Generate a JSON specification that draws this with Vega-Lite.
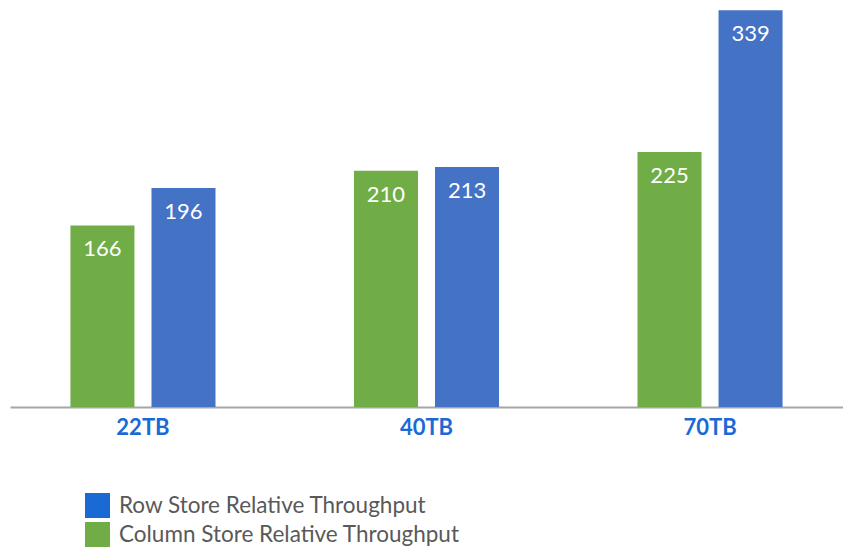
{
  "$schema": "https://vega.github.io/schema/vega-lite/v6.json",
  "width": 833,
  "height": 398,
  "autosize": "none",
  "padding": {"left": 10, "top": 9, "right": 0, "bottom": 141},
  "background": "white",
  "config": {"view": {"stroke": null}, "font": "Lato"},
  "data": {"values": [
    {"size": "22TB", "series": "Column Store Relative Throughput", "value": 166},
    {"size": "22TB", "series": "Row Store Relative Throughput", "value": 196},
    {"size": "40TB", "series": "Column Store Relative Throughput", "value": 210},
    {"size": "40TB", "series": "Row Store Relative Throughput", "value": 213},
    {"size": "70TB", "series": "Column Store Relative Throughput", "value": 225},
    {"size": "70TB", "series": "Row Store Relative Throughput", "value": 339}
  ]},
  "encoding": {
    "x": {"field": "size", "type": "nominal", "title": null,
      "scale": {"paddingInner": 0.062, "paddingOuter": 0},
      "axis": {"domainColor": "#a6a6a6", "domainWidth": 2, "ticks": false, "labelAngle": 0,
        "labelFontSize": 22, "labelFontWeight": "bold", "labelColor": "#1a6ad6", "labelPadding": 10, "labelFont": "Lato"}},
    "xOffset": {"field": "series", "type": "nominal",
      "sort": ["Column Store Relative Throughput", "Row Store Relative Throughput"],
      "scale": {"paddingInner": 0.21, "paddingOuter": 0.746}},
    "y": {"field": "value", "type": "quantitative", "scale": {"domain": [20, 340], "zero": false, "nice": false}, "axis": null}
  },
  "layer": [
    {
      "mark": {"type": "point", "shape": "square", "filled": true, "size": 0},
      "encoding": {
        "fill": {"field": "series", "type": "nominal",
          "scale": {"domain": ["Row Store Relative Throughput", "Column Store Relative Throughput"], "range": ["#1a6ad6", "#70ad47"]},
          "legend": {"title": null, "orient": "none", "legendX": 75, "legendY": 484, "symbolType": "square", "symbolSize": 625, "symbolOpacity": 1,
            "symbolStrokeWidth": 0, "labelFontSize": 22.5, "labelColor": "#595959", "labelFont": "Lato", "rowPadding": 4, "labelOffset": 9, "labelLimit": 500}}
      }
    },
    {
      "mark": {"type": "bar"},
      "encoding": {
        "y2": {"datum": 20},
        "color": {"field": "series", "type": "nominal",
          "scale": {"domain": ["Row Store Relative Throughput", "Column Store Relative Throughput"], "range": ["#4472c4", "#70ad47"]},
          "legend": null}
      }
    },
    {
      "mark": {"type": "text", "color": "white", "fontSize": 22, "dy": 24, "baseline": "middle", "font": "Lato"},
      "encoding": {
        "text": {"field": "value", "type": "quantitative"}
      }
    }
  ]
}
